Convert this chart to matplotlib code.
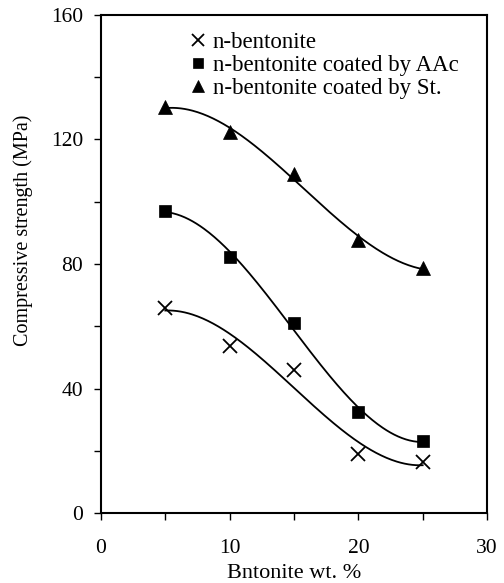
import numpy as np
import matplotlib
matplotlib.use("Agg")
import matplotlib.pyplot as plt

plt.rcParams['font.family'] = ['Liberation Serif', 'DejaVu Serif']

# bentonite content (wt. %)
wt = [5, 10, 15, 20, 25]
# compressive strength (MPa)
n_bent = [66, 53.8, 45.9, 19, 16.3]
n_bent_aac = [97.1, 82.4, 61.1, 32.3, 23.2]
n_bent_st = [130.4, 122.5, 109, 87.7, 78.7]

fig = plt.figure(figsize=(5.04, 5.83), dpi=100)
ax = fig.add_axes([101/504, 1 - 513/583, 386/504, 498/583])

xs = np.linspace(5, 25, 200)
series = [
    (n_bent, 'x', 'n-bentonite', 10),
    (n_bent_aac, 's', 'n-bentonite coated by AAc', 9),
    (n_bent_st, '^', 'n-bentonite coated by St.', 10),
]
for vals, mk, lab, ms in series:
    coef = np.polyfit(wt, vals, 3)
    ax.plot(xs, np.polyval(coef, xs), color='black', lw=1.3)
    ax.plot(wt, vals, linestyle='none', marker=mk, color='black',
            markersize=ms, markeredgewidth=1.3 if mk == 'x' else 0.5, label=lab)

ax.set_xlim(0, 30)
ax.set_ylim(0, 160)
ax.set_xticks([0, 10, 20, 30])
ax.set_xticks([5, 15, 25], minor=True)
ax.set_yticks([0, 40, 80, 120, 160])
ax.set_yticks([20, 60, 100, 140], minor=True)
ax.tick_params(which='both', direction='out', length=5, width=1, labelsize=15.5, colors='black')
ax.tick_params(axis='y', pad=8)
ax.tick_params(axis='x', pad=14)
for s in ax.spines.values():
    s.set_linewidth(1.5)

ax.set_xlabel('Bntonite wt. %', fontsize=16, labelpad=4)
ax.set_ylabel('Compressive strength (MPa)', fontsize=14.5)
ax.yaxis.set_label_coords(-0.176, 0.568)

ax.legend(loc='upper left', bbox_to_anchor=(0.21, 0.985), frameon=False,
          fontsize=16.5, handlelength=0.6, handletextpad=0.35, labelspacing=0.1,
          borderaxespad=0, markerscale=0.85)

fig.savefig('out.png', dpi=100)
